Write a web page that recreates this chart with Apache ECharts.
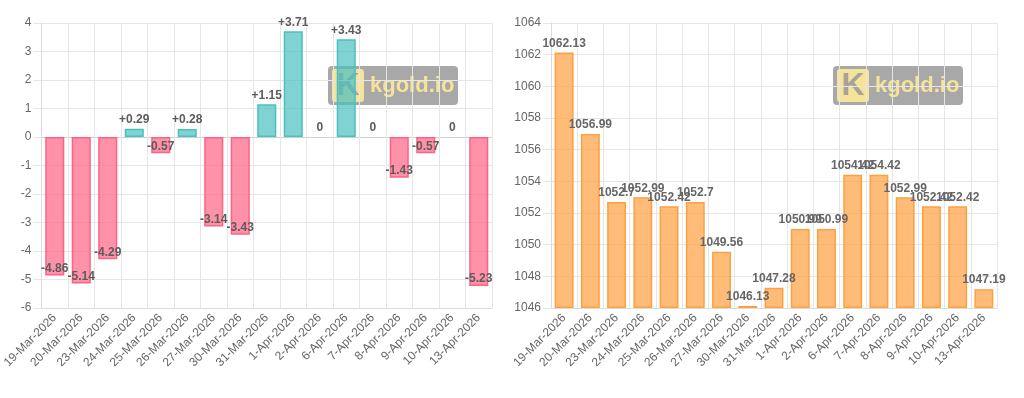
<!DOCTYPE html>
<html>
<head>
<meta charset="utf-8">
<script src="https://cdn.jsdelivr.net/npm/echarts@6/dist/echarts.min.js"></script>
<style>
  html, body { margin: 0; padding: 0; background: #fff; }
  #chart { width: 1024px; height: 398px; }
</style>
</head>
<body>
<div id="chart"></div>
<script>
// dates shared by both charts
var dates = ["19-Mar-2026", "20-Mar-2026", "23-Mar-2026", "24-Mar-2026", "25-Mar-2026", "26-Mar-2026",
  "27-Mar-2026", "30-Mar-2026", "31-Mar-2026", "1-Apr-2026", "2-Apr-2026", "6-Apr-2026",
  "7-Apr-2026", "8-Apr-2026", "9-Apr-2026", "10-Apr-2026", "13-Apr-2026"];
// daily change
var changes = [-4.86, -5.14, -4.29, 0.29, -0.57, 0.28, -3.14, -3.43, 1.15, 3.71, 0, 3.43, 0, -1.43, -0.57, 0, -5.23];
// price
var prices = [1062.13, 1056.99, 1052.7, 1052.99, 1052.42, 1052.7, 1049.56, 1046.13, 1047.28, 1050.99,
  1050.99, 1054.42, 1054.42, 1052.99, 1052.42, 1052.42, 1047.19];
var changeTicks = { min: -6, max: 4, interval: 1 };
var priceTicks = { min: 1046, max: 1064, interval: 2 };

var gridColor = "#e6e6e6";
var labelFont = { color: "#666", fontSize: 12, fontFamily: "Liberation Sans, Arial, sans-serif" };

// build bar items for change chart, colour by sign
function changeItems(arr) {
  let out = [];
  for (let v of arr) {
    let up = v >= 0;
    out.push({
      value: v,
      itemStyle: {
        color: up ? "rgba(75,192,192,0.7)" : "rgba(255,99,132,0.7)",
        borderColor: up ? "rgb(75,192,192)" : "rgb(255,99,132)",
        borderWidth: v === 0 ? 0 : 1.5
      },
      label: {
        position: up ? "top" : "insideBottom",
        distance: up ? 3 : 1
      }
    });
  }
  return out;
}

function catAxis(gridIndex) {
  return {
    type: "category",
    gridIndex: gridIndex,
    data: dates,
    boundaryGap: true,
    axisLine: { onZero: false, lineStyle: { color: "#dcdcdc" } },
    axisTick: { length: 8, lineStyle: { color: gridColor } },
    splitLine: { show: true, lineStyle: { color: gridColor } },
    axisLabel: Object.assign({ interval: 0, rotate: 45, margin: 8 }, labelFont)
  };
}

function valAxis(gridIndex, t, zeroIdx) {
  let colors = gridColor;
  if (zeroIdx != null) {
    colors = [];
    let n = Math.round((t.max - t.min) / t.interval) + 1;
    for (let i = 0; i < n; i++) colors.push(i === zeroIdx ? "#cfcfcf" : gridColor);
  }
  return {
    type: "value",
    gridIndex: gridIndex,
    min: t.min,
    max: t.max,
    interval: t.interval,
    startValue: t.min > 0 ? t.min : undefined,
    axisLine: { show: true, lineStyle: { color: "#dcdcdc" } },
    axisTick: { show: true, length: 8, lineStyle: { color: gridColor } },
    splitLine: { show: true, lineStyle: { color: colors } },
    axisLabel: Object.assign({ margin: 10, formatter: function (v) { return String(v); } }, labelFont)
  };
}

// kgold.io watermark
function logo(x, y) {
  return {
    type: "group",
    left: x,
    top: y,
    z: 1,
    silent: true,
    children: [
      { type: "rect", shape: { x: 0, y: 0, width: 130, height: 39, r: 4 }, style: { fill: "rgba(0,0,0,0.34)" } },
      { type: "rect", shape: { x: 4, y: 3, width: 32, height: 33, r: 3 }, style: { fill: "#f6e39a" } },
      { type: "text", x: 20, y: 20, style: { text: "K", fill: "#a6a49a", font: "bold 32px Liberation Sans, Arial", align: "center", verticalAlign: "middle" } },
      { type: "text", x: 42, y: 20, style: { text: "kgold.io", fill: "#f6e39a", font: "bold 22px Liberation Sans, Arial", verticalAlign: "middle" } }
    ]
  };
}

var chart = echarts.init(document.getElementById("chart"), null, { renderer: "canvas" });
var option = {
  animation: false,
  backgroundColor: "#fff",
  grid: [
    { left: 35, right: 532, top: 23, bottom: 90, containLabel: false },
    { left: 551, right: 27, top: 23, bottom: 90, containLabel: false }
  ],
  xAxis: [catAxis(0), catAxis(1)],
  yAxis: [valAxis(0, changeTicks, 6), valAxis(1, priceTicks, null)],
  graphic: [logo(328, 66), logo(833, 66)],
  series: [
    {
      type: "bar",
      xAxisIndex: 0,
      yAxisIndex: 0,
      barWidth: "72%",
      data: changeItems(changes),
      label: {
        show: true,
        color: "#5c5c5c",
        fontSize: 12,
        fontWeight: "bold",
        fontFamily: "Liberation Sans, Arial, sans-serif",
        formatter: function (p) {
          return p.value > 0 ? "+" + p.value : String(p.value);
        }
      }
    },
    {
      type: "bar",
      xAxisIndex: 1,
      yAxisIndex: 1,
      barWidth: "72%",
      data: prices,
      itemStyle: { color: "rgba(255,159,64,0.7)", borderColor: "rgb(255,159,64)", borderWidth: 1.5 },
      label: {
        show: true,
        position: "top",
        distance: 3,
        color: "#666",
        fontSize: 12,
        fontWeight: "bold",
        fontFamily: "Liberation Sans, Arial, sans-serif"
      }
    }
  ]
};
chart.setOption(option);
</script>
</body>
</html>
